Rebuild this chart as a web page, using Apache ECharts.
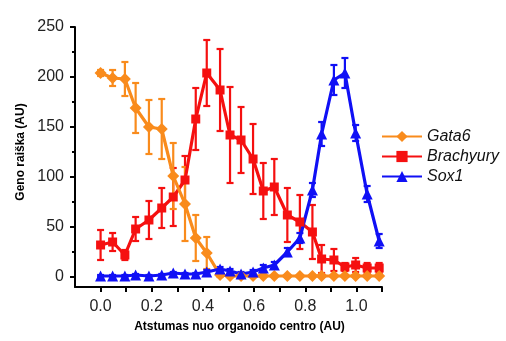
<!DOCTYPE html>
<html>
<head>
<meta charset="utf-8">
<script src="https://cdn.jsdelivr.net/npm/echarts@6/dist/echarts.min.js"></script>
<style>
  html, body { margin: 0; padding: 0; background: #fff; }
  #chart { width: 506px; height: 341px; }
</style>
</head>
<body>
<div id="chart"></div>
<script>
// distance from organoid centre (AU), shared by all three genes
const xPos = [0.0, 0.047, 0.095, 0.137, 0.189, 0.239, 0.284, 0.330, 0.372, 0.415, 0.467, 0.506,
  0.549, 0.596, 0.636, 0.679, 0.730, 0.779, 0.828, 0.864, 0.912, 0.955, 0.997, 1.042, 1.089]

const gata6 = [204, 199, 198, 169, 150, 148, 101, 73, 39, 24, 2, 1, 1, 1, 1, 1, 1, 1, 1, 1, 1, 1, 1, 1, 1]
const gata6Err = [3, 8, 17, 25, 27, 30, 33, 37, 23, 16, 2, 1, 1, 1, 1, 1, 1, 1, 1, 1, 1, 1, 1, 1, 1]

const brachyury = [32, 35, 22, 48, 57, 69, 80, 97, 158, 204, 187, 142, 137, 118, 86, 90, 62, 55, 45, 18, 17, 10, 12, 9, 9]
const brachyuryErr = [15, 9, 5, 12, 19, 20, 29, 24, 31, 33, 41, 48, 33, 35, 28, 28, 27, 27, 27, 14, 11, 4, 7, 5, 5]

const sox1 = [1, 1, 1, 2, 1, 2, 4, 3, 3, 5, 8, 6, 3, 5, 9, 12, 25, 39, 87, 143, 197, 204, 144, 83, 36]
const sox1Err = [1, 1, 1, 1, 1, 1, 1, 1, 1, 2, 2, 2, 2, 2, 3, 3, 4, 5, 7, 12, 15, 15, 8, 8, 7]

const xTickValues = [0, 0.1, 0.2, 0.3, 0.4, 0.5, 0.6, 0.7, 0.8, 0.9, 1.0, 1.1]
const xLabelValues = [0, 0.2, 0.4, 0.6, 0.8, 1.0]
const yTickValues = [0, 50, 100, 150, 200, 250]
const yMinorValues = [25, 75, 125, 175, 225]

const colors = { gata6: '#F98B1C', brachyury: '#F51010', sox1: '#1010F5' }
const font = 'Liberation Sans, Arial, sans-serif'

function errorSeries(vals, errs, color) {
  return {
    type: 'custom',
    silent: true,
    data: xPos.map((x, i) => [x, vals[i] - errs[i], vals[i] + errs[i]]),
    encode: { x: 0, y: [1, 2] },
    renderItem(params, api) {
      const top = api.coord([api.value(0), api.value(2)])
      const bot = api.coord([api.value(0), api.value(1)])
      const w = 3.5
      const style = { stroke: color, lineWidth: 2.2 }
      return {
        type: 'group',
        children: [
          { type: 'line', shape: { x1: top[0], y1: top[1], x2: bot[0], y2: bot[1] }, style },
          { type: 'line', shape: { x1: top[0] - w, y1: top[1], x2: top[0] + w, y2: top[1] }, style },
          { type: 'line', shape: { x1: bot[0] - w, y1: bot[1], x2: bot[0] + w, y2: bot[1] }, style }
        ]
      }
    },
    z: 2
  }
}

function lineSeries(name, vals, color, symbol, size) {
  return {
    name,
    type: 'line',
    data: xPos.map((x, i) => [x, vals[i]]),
    symbol,
    symbolSize: size,
    showAllSymbol: true,
    itemStyle: { color },
    lineStyle: { color, width: 3.2 },
    z: 3
  }
}

const chart = echarts.init(document.getElementById('chart'))
chart.setOption({
  animation: false,
  grid: { left: 75, right: 124, top: 27, bottom: 54 },
  legend: {
    data: ['Gata6', 'Brachyury', 'Sox1'],
    orient: 'vertical',
    left: 376,
    top: 122,
    itemWidth: 40,
    itemHeight: 14,
    itemGap: 1,
    textStyle: { fontFamily: font, fontSize: 16, fontStyle: 'italic', color: '#111', lineHeight: 19 }
  },
  xAxis: {
    type: 'value',
    min: -0.1,
    max: 1.1,
    name: 'Atstumas nuo organoido centro (AU)',
    nameLocation: 'middle',
    nameGap: 34,
    nameTextStyle: { fontFamily: font, fontSize: 12, fontWeight: 'bold', color: '#000', padding: [0, 0, 0, 22] },
    axisLine: { onZero: false, lineStyle: { color: '#000', width: 2 } },
    axisTick: { length: 5, lineStyle: { color: '#000', width: 2 }, customValues: xTickValues },
    axisLabel: {
      customValues: xLabelValues,
      formatter: v => v.toFixed(1),
      margin: 12,
      fontFamily: font,
      fontSize: 16,
      color: '#222'
    },
    splitLine: { show: false }
  },
  yAxis: [{
    type: 'value',
    min: -10,
    max: 250,
    name: 'Geno raiška (AU)',
    nameLocation: 'middle',
    nameGap: 48,
    nameTextStyle: { fontFamily: font, fontSize: 12, fontWeight: 'bold', color: '#000', padding: [0, 0, 0, 10] },
    axisLine: { show: true, onZero: false, lineStyle: { color: '#000', width: 2 } },
    axisTick: { show: true, length: 5, lineStyle: { color: '#000', width: 2 }, customValues: yTickValues },
    axisLabel: {
      customValues: yTickValues,
      formatter: v => (v < 0 ? '' : String(v)),
      margin: 11,
      fontFamily: font,
      fontSize: 16,
      color: '#222'
    },
    splitLine: { show: false }
  }, {
    type: 'value',
    min: -10,
    max: 250,
    position: 'left',
    axisLine: { show: false, onZero: false },
    axisTick: { show: true, length: 3, lineStyle: { color: '#000', width: 2 }, customValues: yMinorValues },
    axisLabel: { show: false },
    splitLine: { show: false }
  }],
  series: [
    errorSeries(brachyury, brachyuryErr, colors.brachyury),
    errorSeries(gata6, gata6Err, colors.gata6),
    errorSeries(sox1, sox1Err, colors.sox1),
    lineSeries('Brachyury', brachyury, colors.brachyury, 'rect', 9),
    lineSeries('Gata6', gata6, colors.gata6, 'diamond', 12),
    lineSeries('Sox1', sox1, colors.sox1, 'triangle', 11)
  ]
})
</script>
</body>
</html>
